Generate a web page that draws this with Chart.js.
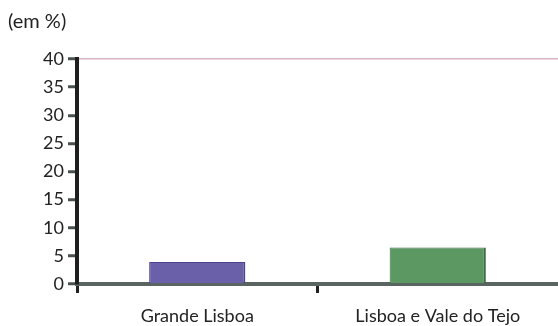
<!DOCTYPE html>
<html>
<head>
<meta charset="utf-8">
<script src="https://cdn.jsdelivr.net/npm/chart.js@4/dist/chart.umd.min.js"></script>
<style>
    body { margin: 0; background: #fff; }
    #c { display: block; }
</style>
</head>
<body>
<canvas id="c" width="558" height="326"></canvas>
<script>
const regioes = ['Grande Lisboa', 'Lisboa e Vale do Tejo'];
const valores = [3.9, 6.5];
const yMin = 0;
const yMax = 40;
const yStep = 5;

const FONT = 'Lato, "Open Sans", sans-serif';

new Chart(document.getElementById('c').getContext('2d'), {
    type: 'bar',
    data: {
        labels: regioes,
        datasets: [{
            data: valores,
            backgroundColor: ['#6a60a9', '#5b9862'],
            borderColor: ['#4c418e', '#3d6b44'],
            borderWidth: { top: 1, left: 1, right: 2, bottom: 0 },
            barPercentage: 0.4,
            categoryPercentage: 1.0
        }]
    },
    options: {
        responsive: false,
        animation: false,
        layout: { padding: { left: 8, right: 0, top: 0, bottom: 0 } },
        plugins: {
            legend: { display: false },
            tooltip: { enabled: false },
            title: {
                display: true,
                text: '(em %)',
                align: 'start',
                color: '#222',
                font: { family: FONT, size: 20, weight: 'normal' },
                padding: { top: 10, bottom: 25 }
            }
        },
        scales: {
            x: {
                afterFit: scale => { scale.height = 42; },
                border: { color: '#5a6461', width: 4 },
                grid: {
                    drawOnChartArea: false,
                    tickLength: 9,
                    tickWidth: 3,
                    tickColor: ctx => (ctx.index === undefined ? 'rgba(0,0,0,0)' : '#222')
                },
                ticks: {
                    color: '#222',
                    font: { family: FONT, size: 18 },
                    padding: 12
                }
            },
            y: {
                min: yMin,
                max: yMax,
                afterFit: scale => { scale.width = 69; },
                border: { color: '#1e1e1e', width: 4 },
                grid: {
                    color: ctx => (ctx.tick && ctx.tick.value === yMax ? '#d9b3c3' : 'rgba(0,0,0,0)'),
                    lineWidth: 1.5,
                    tickLength: 9,
                    tickWidth: 3,
                    tickColor: '#4a524f'
                },
                ticks: {
                    stepSize: yStep,
                    color: '#222',
                    font: { family: FONT, size: 18 },
                    padding: 4
                }
            }
        }
    }
});
</script>
</body>
</html>
